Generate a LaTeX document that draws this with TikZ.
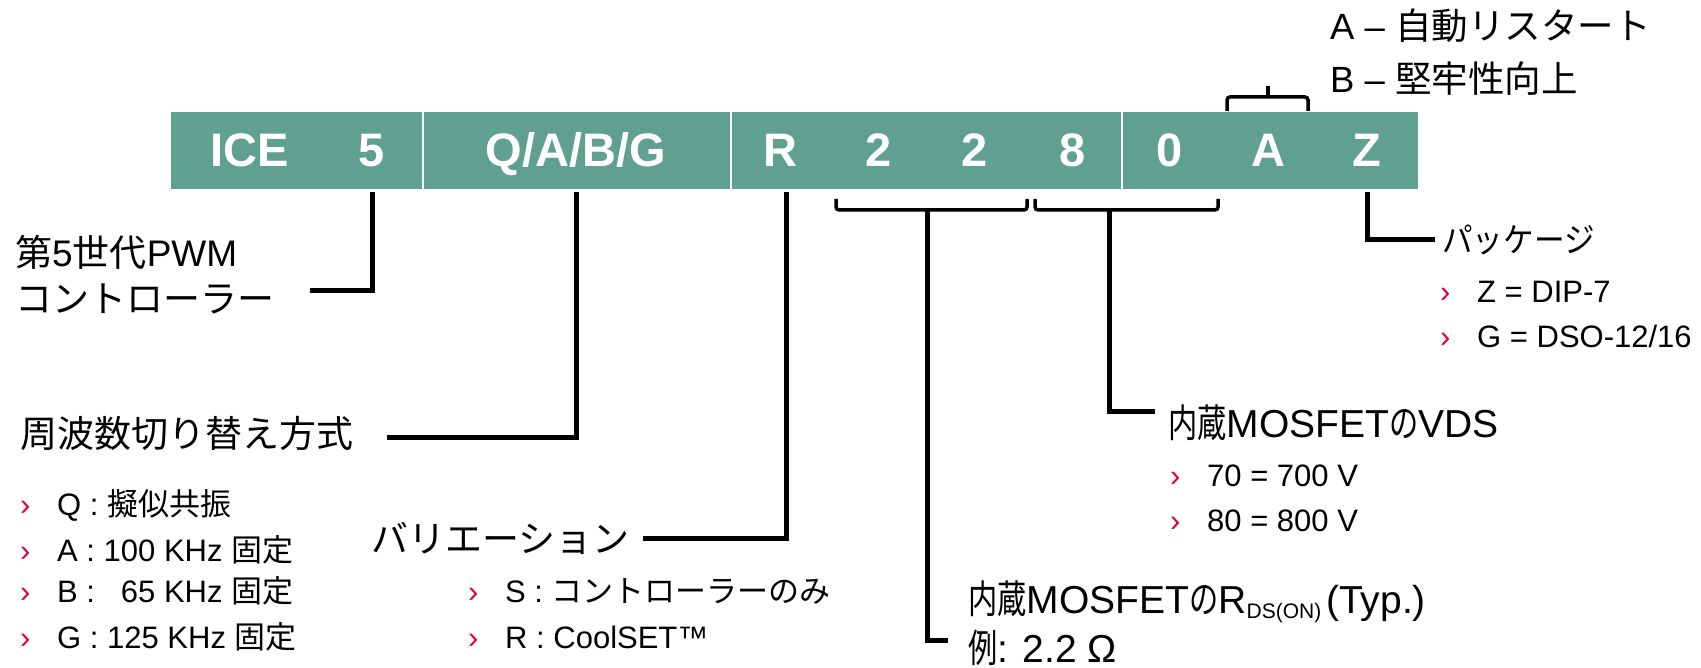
\documentclass[tikz,border=0pt]{standalone}
\usepackage{fontspec}
\setmainfont{Liberation Sans}
\newfontfamily\jp{Noto Sans CJK JP}
\newfontfamily\jpn[FakeStretch=0.75]{Noto Sans CJK JP}
\newfontfamily\jpm[FakeStretch=0.9]{Noto Sans CJK JP}
\definecolor{bargreen}{RGB}{95,160,144}
\definecolor{infred}{RGB}{226,0,52}
\newcommand\bul{\makebox[37pt][l]{\textcolor{infred}{›}}}
\begin{document}
\begin{tikzpicture}[x=1pt,y=-1pt,
  conn/.style={line width=5pt},
  brk/.style={line width=3.5pt, rounded corners=3pt},
  bartxt/.style={text=white, font=\bfseries\fontsize{47}{56}\selectfont, anchor=base, inner sep=0pt},
  lbl/.style={anchor=base west, inner sep=0pt, font=\fontsize{37}{44}\selectfont},
  toplbl/.style={anchor=base west, inner sep=0pt, font=\fontsize{36.5}{42}\selectfont},
  mos/.style={anchor=base west, inner sep=0pt, font=\fontsize{39}{46}\selectfont},
  item/.style={anchor=base west, inner sep=0pt, font=\fontsize{31}{37}\selectfont}]
\useasboundingbox (0,0) rectangle (1701,668);

% bar
\node[fill=bargreen, minimum width=1247pt, minimum height=77pt, inner sep=0pt, anchor=north west] (bar) at (171,112) {};
\foreach \x in {423,731,1122} \draw[white, line width=2pt] (\x,112) -- (\x,189);

\node[bartxt] (ice) at (250,167) {ICE};
\node[bartxt] (five) at (372,167) {5};
\node[bartxt] (qabg) at (576,167) {Q/A/B/G};
\node[bartxt] (r) at (780,167) {R};
\node[bartxt] (d1) at (879,167) {2};
\node[bartxt] (d2) at (975,167) {2};
\node[bartxt] (d3) at (1073,167) {8};
\node[bartxt] (d4) at (1170,167) {0};
\node[bartxt] (a) at (1268,167) {A};
\node[bartxt] (z) at (1367,167) {Z};

\coordinate (barbot) at (0,192);

% labels
\node[lbl] (gen1) at (15,267) {{\jp 第}5{\jp 世代}PWM};
\node[lbl] (gen2) at (15,313) {{\jp コントローラー}};
\node[lbl] (freq) at (20,447) {{\jp 周波数切り替え方式}};
\node[item] (iq) at (20,515) {\bul Q : {\jp 擬似共振}};
\node[item] (ia) at (20,561) {\bul A : 100 KHz {\jp 固定}};
\node[item] (ib) at (20,602) {\bul B : \hphantom{1}65 KHz {\jp 固定}};
\node[item] (ig) at (20,648) {\bul G : 125 KHz {\jp 固定}};

\node[lbl] (var) at (371,552) {{\jp バリエーション}};
\node[item] (is) at (468,602) {\bul S : {\jp コントローラーのみ}};
\node[item] (ir) at (468,648) {\bul R : CoolSET™};

\node[mos] (rds) at (968,613) {{\jpn 内蔵}MOSFET{\jpn の}R\raisebox{-5pt}{\fontsize{21}{25}\selectfont DS(ON)}\hspace{5pt}(Typ.)};
\node[mos] (ex) at (968,662) {{\jpn 例}: 2.2 Ω};

\node[mos] (vds) at (1168,437) {{\jpn 内蔵}MOSFET{\jpn の}VDS};
\node[item] (i70) at (1170,486) {\bul 70 = 700 V};
\node[item] (i80) at (1170,531) {\bul 80 = 800 V};

\node[anchor=base west, inner sep=0pt, font=\fontsize{34}{40}\selectfont] (pkg) at (1442,253) {{\jpm パッケージ}};
\node[item] (iz) at (1440,303) {\bul Z = DIP-7};
\node[item] (igg) at (1440,348) {\bul G = DSO-12/16};

\node[toplbl] (ta) at (1330,40) {A – {\jp 自動リスタート}};
\node[toplbl] (tb) at (1330,93) {B – {\jp 堅牢性向上}};

% connectors
\coordinate (c1) at (310,291);
\coordinate (c2) at (387,437);
\coordinate (c3) at (643,538);
\draw[conn] (five |- barbot) |- (c1);
\draw[conn] (qabg |- barbot) |- (c2);
\draw[conn] (r.center |- barbot) ++(6,0) coordinate (r3) |- (c3);

% bracket under 2 2
\coordinate (b1l) at (836,199);
\coordinate (b1r) at (1027,199);
\coordinate (b1m) at (927,210);
\coordinate (c4) at (948,640);
\draw[brk] (b1l) |- (b1m) -| (b1r);
\draw[conn] (b1m) |- (c4);

% bracket under 8 0
\coordinate (b2l) at (1035,199);
\coordinate (b2r) at (1218,199);
\coordinate (b2m) at (1109,210);
\coordinate (c5) at (1155,411);
\draw[brk] (b2l) |- (b2m) -| (b2r);
\draw[conn] (b2m) |- (c5);

% bracket above A
\coordinate (b3l) at (1227,111);
\coordinate (b3r) at (1308,111);
\coordinate (b3m) at (1268,97);
\coordinate (b3t) at (1268,86);
\draw[brk] (b3l) |- (b3m) -| (b3r);
\draw[line width=3.5pt] (b3m) -- (b3t);

% package
\coordinate (c6) at (1435,240);
\draw[conn] (z |- barbot) |- (c6);
\end{tikzpicture}
\end{document}
